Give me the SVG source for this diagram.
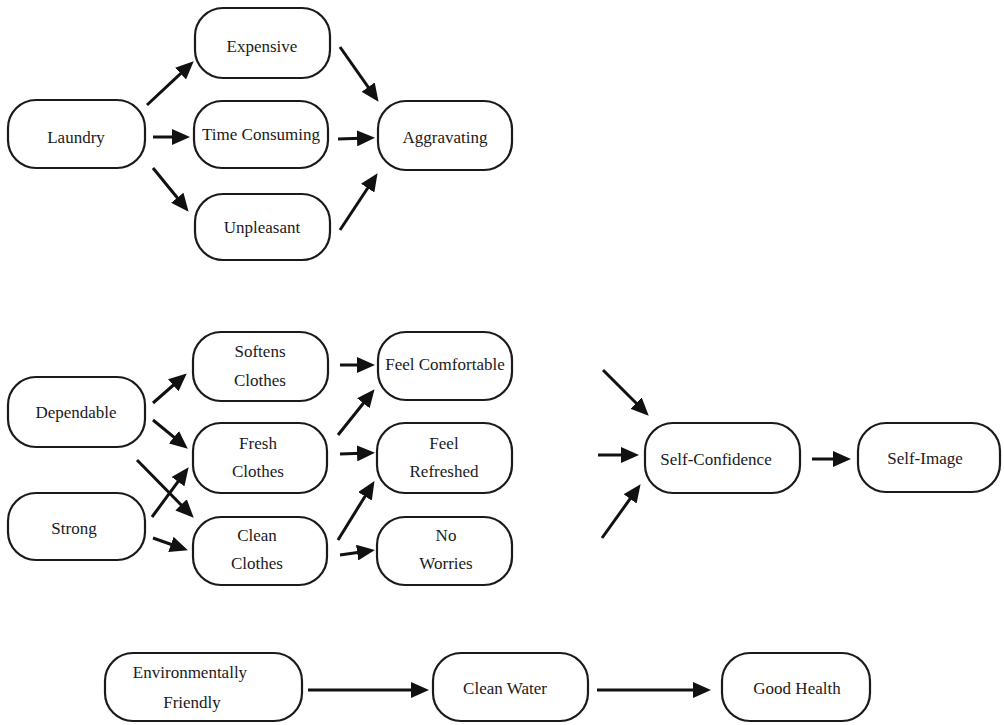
<svg xmlns="http://www.w3.org/2000/svg" width="1004" height="725" viewBox="0 0 1004 725">
<style>
.box{fill:#fff;stroke:#1a1a1a;stroke-width:2.2}
text{font-family:'Liberation Serif','Times New Roman','DejaVu Serif',serif;font-size:17px;fill:#1a1a1a;text-anchor:middle}
.c{stroke:#111;stroke-width:3;fill:none}
</style>
<defs>
<marker id="ah" viewBox="0 0 18 16" refX="11" refY="8" markerWidth="18" markerHeight="16" markerUnits="userSpaceOnUse" orient="auto">
<path d="M0,0 L18,8 L0,16 z" fill="#111"/>
</marker>
</defs>
<rect width="1004" height="725" fill="#fff"/>
<g id="connectors">
<line class="c" x1="147" y1="105" x2="188.6" y2="66.1" marker-end="url(#ah)"/>
<line class="c" x1="153" y1="137" x2="183" y2="137" marker-end="url(#ah)"/>
<line class="c" x1="153" y1="168" x2="184.2" y2="206.3" marker-end="url(#ah)"/>
<line class="c" x1="340" y1="47" x2="374.5" y2="96.1" marker-end="url(#ah)"/>
<line class="c" x1="338" y1="139" x2="368" y2="138" marker-end="url(#ah)"/>
<line class="c" x1="340" y1="230" x2="373.7" y2="179" marker-end="url(#ah)"/>
<line class="c" x1="153" y1="403" x2="181.5" y2="378" marker-end="url(#ah)"/>
<line class="c" x1="153" y1="420" x2="182.4" y2="444.2" marker-end="url(#ah)"/>
<line class="c" x1="137" y1="460" x2="188.8" y2="512.7" marker-end="url(#ah)"/>
<line class="c" x1="152" y1="517" x2="184.5" y2="472.8" marker-end="url(#ah)"/>
<line class="c" x1="153" y1="538" x2="181.3" y2="548" marker-end="url(#ah)"/>
<line class="c" x1="340" y1="365" x2="368" y2="365" marker-end="url(#ah)"/>
<line class="c" x1="338" y1="435" x2="370.2" y2="394.7" marker-end="url(#ah)"/>
<line class="c" x1="340" y1="454" x2="368" y2="453" marker-end="url(#ah)"/>
<line class="c" x1="338" y1="540" x2="370.8" y2="487" marker-end="url(#ah)"/>
<line class="c" x1="340" y1="555" x2="368" y2="551" marker-end="url(#ah)"/>
<line class="c" x1="603" y1="370" x2="643.8" y2="410.8" marker-end="url(#ah)"/>
<line class="c" x1="598" y1="455" x2="632" y2="455" marker-end="url(#ah)"/>
<line class="c" x1="602" y1="538" x2="636.5" y2="489.9" marker-end="url(#ah)"/>
<line class="c" x1="812" y1="459" x2="844" y2="459" marker-end="url(#ah)"/>
<line class="c" x1="308" y1="690" x2="422" y2="690" marker-end="url(#ah)"/>
<line class="c" x1="597" y1="690" x2="704" y2="690" marker-end="url(#ah)"/>
</g>
<g id="laundry"><rect class="box" x="8" y="100" width="137" height="68" rx="28"/><text x="76" y="143">Laundry</text></g>
<g id="expensive"><rect class="box" x="195" y="8" width="135" height="70" rx="28"/><text x="262" y="52">Expensive</text></g>
<g id="time-consuming"><rect class="box" x="194" y="101" width="134" height="67" rx="28"/><text x="261" y="140">Time Consuming</text></g>
<g id="unpleasant"><rect class="box" x="195" y="194" width="135" height="66" rx="28"/><text x="262" y="233">Unpleasant</text></g>
<g id="aggravating"><rect class="box" x="378" y="101" width="134" height="69" rx="28"/><text x="445" y="143">Aggravating</text></g>
<g id="softens-clothes"><rect class="box" x="193" y="332" width="135" height="69" rx="28"/><text x="260" y="357">Softens</text><text x="260" y="386">Clothes</text></g>
<g id="feel-comfortable"><rect class="box" x="378" y="332" width="134" height="68" rx="28"/><text x="445" y="370">Feel Comfortable</text></g>
<g id="dependable"><rect class="box" x="8" y="377" width="137" height="70" rx="28"/><text x="76" y="418">Dependable</text></g>
<g id="fresh-clothes"><rect class="box" x="193" y="423" width="134" height="70" rx="28"/><text x="258" y="449">Fresh</text><text x="258" y="477">Clothes</text></g>
<g id="feel-refreshed"><rect class="box" x="377" y="423" width="135" height="70" rx="28"/><text x="444" y="449">Feel</text><text x="444" y="477">Refreshed</text></g>
<g id="strong"><rect class="box" x="8" y="493" width="137" height="67" rx="28"/><text x="74" y="534">Strong</text></g>
<g id="clean-clothes"><rect class="box" x="193" y="517" width="134" height="68" rx="28"/><text x="257" y="541">Clean</text><text x="257" y="569">Clothes</text></g>
<g id="no-worries"><rect class="box" x="377" y="517" width="135" height="68" rx="28"/><text x="446" y="541">No</text><text x="446" y="569">Worries</text></g>
<g id="self-confidence"><rect class="box" x="645" y="423" width="155" height="70" rx="28"/><text x="716" y="465">Self-Confidence</text></g>
<g id="self-image"><rect class="box" x="858" y="423" width="142" height="69" rx="28"/><text x="925" y="464">Self-Image</text></g>
<g id="environmentally-friendly"><rect class="box" x="105" y="653" width="197" height="68" rx="28"/><text x="190" y="678">Environmentally</text><text x="192" y="708">Friendly</text></g>
<g id="clean-water"><rect class="box" x="433" y="653" width="155" height="68" rx="28"/><text x="505" y="694">Clean Water</text></g>
<g id="good-health"><rect class="box" x="722" y="653" width="148" height="68" rx="28"/><text x="797" y="694">Good Health</text></g>
</svg>
